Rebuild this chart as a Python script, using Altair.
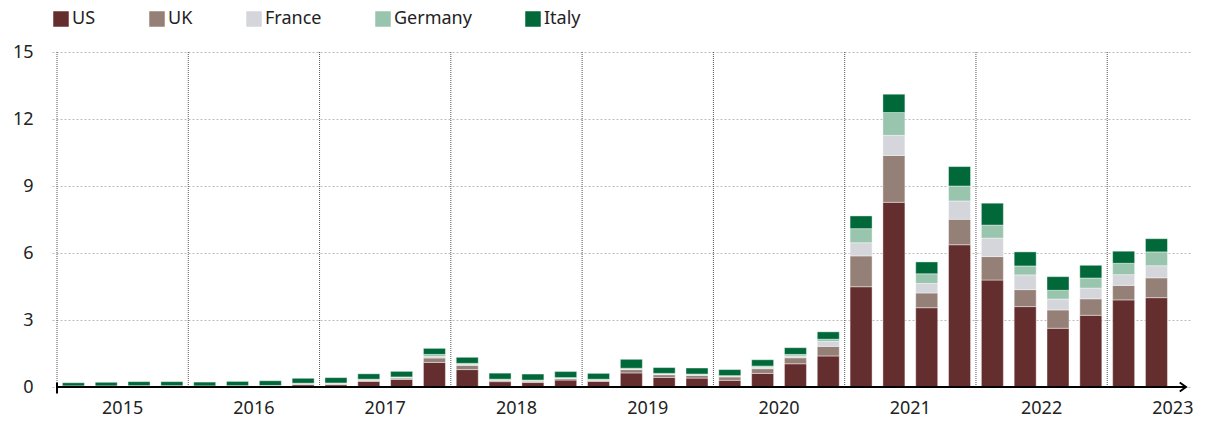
import altair as alt
import pandas as pd

# Quarterly values, 2015 Q1 .. 2023 Q2
quarters = [f"{y} Q{q}" for y in range(2015, 2024) for q in range(1, 5)][:34]
countries = ["US", "UK", "France", "Germany", "Italy"]
colors = ["#652e2e", "#958078", "#d4d6db", "#99c4ad", "#006839"]

us = [0.01, 0.01, 0.02, 0.02, 0.01, 0.02, 0.03, 0.10,
      0.10, 0.25, 0.34, 1.10, 0.78, 0.24, 0.20, 0.31,
      0.25, 0.63, 0.43, 0.40, 0.30, 0.61, 1.04, 1.39,
      4.49, 8.27, 3.55, 6.37, 4.79, 3.60, 2.63, 3.21,
      3.90, 4.00]
uk = [0.01, 0.01, 0.01, 0.01, 0.01, 0.01, 0.01, 0.03,
      0.03, 0.05, 0.06, 0.20, 0.19, 0.06, 0.06, 0.06,
      0.05, 0.15, 0.12, 0.12, 0.15, 0.21, 0.27, 0.43,
      1.38, 2.10, 0.66, 1.14, 1.05, 0.76, 0.82, 0.74,
      0.65, 0.89]
france = [0.01, 0.01, 0.01, 0.01, 0.01, 0.01, 0.01, 0.02,
          0.02, 0.02, 0.02, 0.07, 0.05, 0.02, 0.02, 0.02,
          0.02, 0.03, 0.03, 0.03, 0.03, 0.06, 0.08, 0.22,
          0.59, 0.90, 0.43, 0.82, 0.83, 0.66, 0.49, 0.48,
          0.48, 0.54]
germany = [0.02, 0.02, 0.02, 0.02, 0.02, 0.02, 0.02, 0.02,
           0.03, 0.03, 0.03, 0.09, 0.04, 0.03, 0.03, 0.03,
           0.03, 0.03, 0.03, 0.03, 0.03, 0.06, 0.07, 0.10,
           0.63, 1.02, 0.43, 0.67, 0.58, 0.40, 0.39, 0.45,
           0.51, 0.62]
italy = [0.14, 0.16, 0.18, 0.18, 0.17, 0.19, 0.21, 0.22,
         0.24, 0.24, 0.25, 0.27, 0.27, 0.27, 0.27, 0.27,
         0.26, 0.40, 0.26, 0.27, 0.27, 0.28, 0.30, 0.33,
         0.57, 0.82, 0.53, 0.87, 0.98, 0.63, 0.61, 0.57,
         0.54, 0.59]

years = list(range(2015, 2024))
y_ticks = [0, 3, 6, 9, 12, 15]

FONT = "Noto Sans"
X_MAX = 34.4

series = {"US": us, "UK": uk, "France": france, "Germany": germany, "Italy": italy}
rows = []
for k, name in enumerate(countries):
    for i, v in enumerate(series[name]):
        rows.append({"quarter": quarters[i], "t": i + 0.5, "country": name,
                     "ord": k, "value": v})
bars_df = pd.DataFrame(rows)

x_scale = alt.Scale(domain=[0, X_MAX], nice=False, zero=False)
y_scale = alt.Scale(domain=[0, 15], nice=False)
y_axis = alt.Axis(values=y_ticks, title=None, domain=False, ticks=False,
                  labelFontSize=18, labelFont=FONT, labelColor="#222",
                  labelPadding=19, grid=True, gridColor="#bdbdbd",
                  gridDash=[2, 2], gridWidth=1)

bars = alt.Chart(bars_df).mark_bar(
    width=22, stroke="white", strokeWidth=0.6, strokeOpacity=0.7
).encode(
    x=alt.X("t:Q", scale=x_scale, axis=None),
    y=alt.Y("value:Q", scale=y_scale, stack="zero", axis=y_axis),
    color=alt.Color("country:N",
                    scale=alt.Scale(domain=countries, range=colors),
                    legend=alt.Legend(title=None, orient="none", direction="horizontal",
                                      legendX=0, legendY=-42,
                                      symbolType="square", symbolSize=240,
                                      symbolStrokeWidth=0, labelFontSize=18,
                                      labelFont=FONT, labelColor="#222",
                                      labelOffset=2, columnPadding=52)),
    order=alt.Order("ord:Q", sort="ascending"),
)

# Year separators (dotted)
sep_df = pd.DataFrame({"t": [4 * k for k in range(len(years))]})
separators = alt.Chart(sep_df).mark_rule(
    color="#555", strokeDash=[1, 1], strokeWidth=1
).encode(x=alt.X("t:Q", scale=x_scale, axis=None))

# Year labels, centred on each year
yr_df = pd.DataFrame({"t": [4 * k + 2 for k in range(len(years))],
                      "label": [str(y) for y in years]})
year_labels = alt.Chart(yr_df).mark_text(
    fontSize=18, font=FONT, color="#222", baseline="middle", dy=22
).encode(x=alt.X("t:Q", scale=x_scale, axis=None),
         y=alt.datum(0, scale=y_scale), text="label:N")

# Baseline axis with open arrow head and start tick
base_df = pd.DataFrame({"x0": [0.0], "x1": [X_MAX], "y": [0.0]})
baseline = alt.Chart(base_df).mark_rule(color="black", strokeWidth=2).encode(
    x=alt.X("x0:Q", scale=x_scale, axis=None), x2="x1:Q",
    y=alt.Y("y:Q", scale=y_scale, axis=y_axis)
)
arrow = alt.Chart(base_df).mark_point(
    shape="M-1.4,-1L0,0L-1.4,1", size=80, filled=False, stroke="black",
    strokeWidth=2, opacity=1
).encode(x=alt.X("x1:Q", scale=x_scale, axis=None),
         y=alt.Y("y:Q", scale=y_scale, axis=y_axis))
start_tick = alt.Chart(base_df).mark_tick(
    orient="vertical", size=11, thickness=2, color="black", opacity=1, yOffset=1
).encode(x=alt.X("x0:Q", scale=x_scale, axis=None),
         y=alt.Y("y:Q", scale=y_scale, axis=y_axis))

chart = alt.layer(separators, bars, baseline, arrow, start_tick, year_labels).properties(
    width=1139, height=335,
    autosize=alt.AutoSizeParams(type="none"),
    padding={"left": 52, "top": 52, "right": 15, "bottom": 34},
).configure_view(stroke=None)

chart.save("out.html", embed_options={"renderer": "svg", "actions": False})
